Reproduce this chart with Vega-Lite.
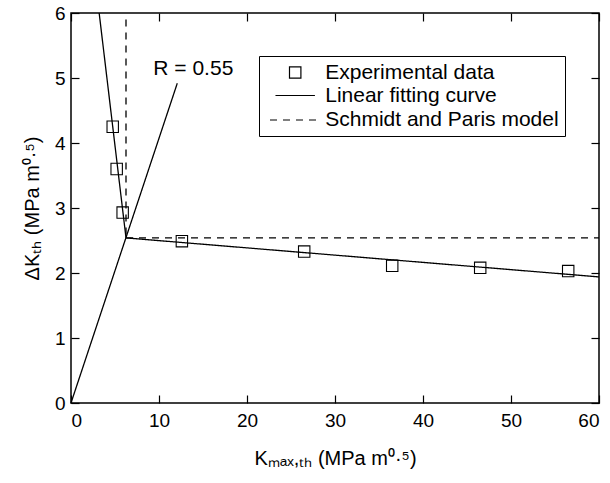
{
  "$schema": "https://vega.github.io/schema/vega-lite/v6.json",
  "width": 528,
  "height": 390,
  "autosize": {"type": "none"},
  "padding": {"left": 71, "top": 13, "right": 11, "bottom": 80},
  "config": {
    "font": "Liberation Sans",
    "view": {"stroke": "black", "strokeWidth": 1.5},
    "axis": {
      "domain": false,
      "grid": false,
      "ticks": true,
      "tickColor": "black",
      "tickSize": -8,
      "tickWidth": 1.2,
      "labelColor": "black",
      "labelFont": "Liberation Sans",
      "labelFontSize": 19,
      "titleFont": "Liberation Sans",
      "titleFontSize": 20,
      "titleFontWeight": "normal",
      "titleColor": "black"
    },
    "legend": {
      "title": null,
      "orient": "none",
      "legendX": 188,
      "legendY": 43,
      "symbolSize": 576,
      "symbolOffset": 17.2,
      "symbolStrokeColor": "black",
      "symbolStrokeWidth": 1.2,
      "symbolFillColor": "transparent",
      "labelFontSize": 21,
      "labelFont": "Liberation Sans",
      "labelColor": "black",
      "labelLimit": 0,
      "labelOffset": 17,
      "strokeColor": "black",
      "padding": 6,
      "rowPadding": 1
    }
  },
  "datasets": {
    "points": [
      {"x": 4.74, "y": 4.25, "series": "Experimental data"},
      {"x": 5.19, "y": 3.6, "series": "Experimental data"},
      {"x": 5.87, "y": 2.93, "series": "Experimental data"},
      {"x": 12.6, "y": 2.49, "series": "Experimental data"},
      {"x": 26.5, "y": 2.33, "series": "Experimental data"},
      {"x": 36.5, "y": 2.11, "series": "Experimental data"},
      {"x": 46.5, "y": 2.08, "series": "Experimental data"},
      {"x": 56.5, "y": 2.03, "series": "Experimental data"}
    ],
    "lines": [
      {"series": "Linear fitting curve", "seg": "fit", "x": 3.2, "y": 6.0},
      {"series": "Linear fitting curve", "seg": "fit", "x": 6.25, "y": 2.54},
      {"series": "Linear fitting curve", "seg": "fit", "x": 60, "y": 1.94},
      {"series": "Linear fitting curve", "seg": "R", "x": 0, "y": 0},
      {"series": "Linear fitting curve", "seg": "R", "x": 12.08, "y": 4.92},
      {"series": "Schmidt and Paris model", "seg": "vertical", "x": 6.25, "y": 5.9},
      {"series": "Schmidt and Paris model", "seg": "vertical", "x": 6.25, "y": 2.54},
      {"series": "Schmidt and Paris model", "seg": "horizontal", "x": 6.25, "y": 2.54},
      {"series": "Schmidt and Paris model", "seg": "horizontal", "x": 60, "y": 2.54}
    ],
    "labels": [
      {"x": 13.9, "y": 5.14, "text": "R = 0.55"}
    ]
  },
  "resolve": {"axis": {"x": "independent", "y": "independent"}},
  "layer": [
    {
      "data": {"name": "lines"},
      "mark": {"type": "line", "color": "black", "strokeWidth": 1.3},
      "encoding": {
        "x": {"field": "x", "type": "quantitative", "scale": {"domain": [0, 60], "nice": false},
          "axis": {"orient": "bottom", "values": [0, 10, 20, 30, 40, 50, 60], "labelPadding": 16, "title": "Kₘₐₓ,ₜₕ (MPa m⁰·⁵)", "titlePadding": 18}},
        "y": {"field": "y", "type": "quantitative", "scale": {"domain": [0, 6], "nice": false},
          "axis": {"orient": "left", "values": [0, 1, 2, 3, 4, 5, 6], "labelPadding": 14, "title": "ΔKₜₕ (MPa m⁰·⁵)", "titlePadding": 12}},
        "detail": {"field": "seg"},
        "strokeDash": {
          "field": "series", "type": "nominal",
          "scale": {"domain": ["Experimental data", "Linear fitting curve", "Schmidt and Paris model"], "range": [[1, 0], [1, 0], [7, 6]]}
        },
        "order": {"field": "x", "type": "quantitative"}
      }
    },
    {
      "data": {"name": "points"},
      "mark": {"type": "point", "filled": false, "color": "black", "strokeWidth": 1.1, "opacity": 1},
      "encoding": {
        "x": {"field": "x", "type": "quantitative", "axis": {"orient": "top", "values": [0, 10, 20, 30, 40, 50, 60], "labels": false, "title": null}},
        "y": {"field": "y", "type": "quantitative", "axis": {"orient": "right", "values": [0, 1, 2, 3, 4, 5, 6], "labels": false, "title": null}},
        "shape": {
          "field": "series", "type": "nominal",
          "scale": {"domain": ["Experimental data", "Linear fitting curve", "Schmidt and Paris model"], "range": ["square", "M-2.1,0H2.1", "M-2.1,0H2.1"]}
        },
        "size": {
          "field": "series", "type": "nominal",
          "scale": {"domain": ["Experimental data", "Linear fitting curve", "Schmidt and Paris model"], "range": [130, 576, 576]}
        }
      }
    },
    {
      "data": {"name": "labels"},
      "mark": {"type": "text", "fontSize": 21, "color": "black", "font": "Liberation Sans"},
      "encoding": {
        "x": {"field": "x", "type": "quantitative", "axis": null},
        "y": {"field": "y", "type": "quantitative", "axis": null},
        "text": {"field": "text"}
      }
    }
  ]
}
